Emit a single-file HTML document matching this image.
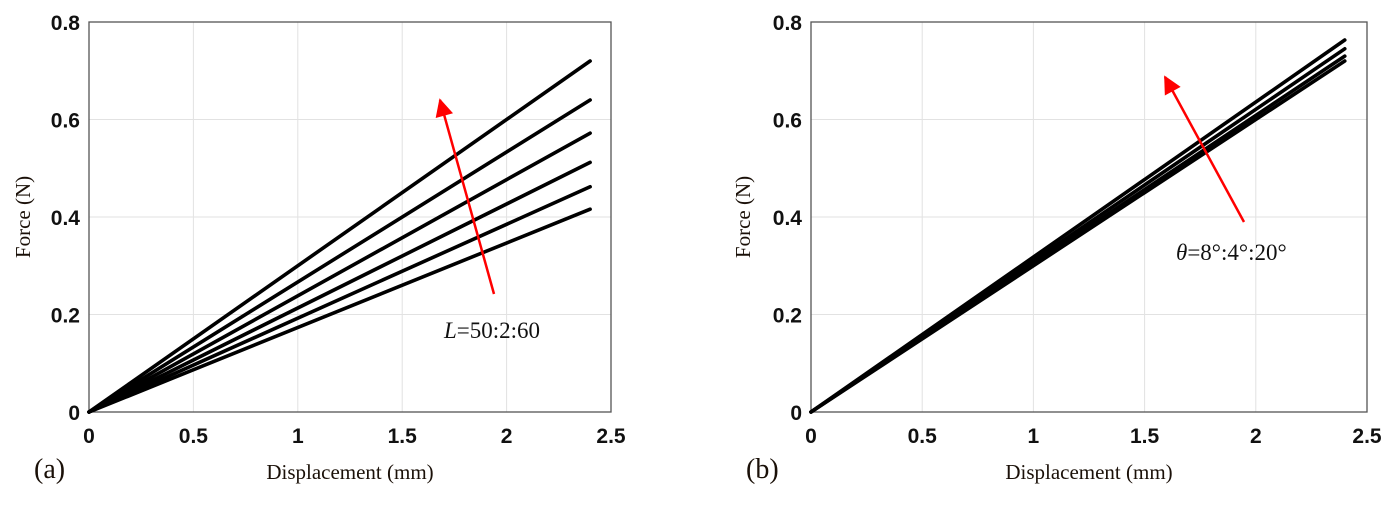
<!DOCTYPE html>
<html><head><meta charset="utf-8">
<style>
html,body{margin:0;padding:0;background:#fff;}
svg{display:block;}
.tick{font-family:"Liberation Sans",sans-serif;font-weight:bold;font-size:21px;fill:#111;}
.title{font-family:"Liberation Serif",serif;font-size:21px;fill:#1a1008;}
.ann{font-family:"Liberation Serif",serif;font-size:23px;fill:#111;}
</style></head>
<body>
<svg id="fig" width="1395" height="505" viewBox="0 0 1395 505" xmlns="http://www.w3.org/2000/svg">
<defs>
<marker id="ah2" viewBox="0 0 10 10" markerWidth="22" markerHeight="18" refX="9" refY="5" orient="auto" markerUnits="userSpaceOnUse"><path d="M0,0 L10,5 L0,10 z" fill="#f00"/></marker></defs>
</svg>
<script>
const xTicks=[0,0.5,1,1.5,2,2.5];
const yTicks=[0,0.2,0.4,0.6,0.8];
const xTickLabels=["0","0.5","1","1.5","2","2.5"];
const yTickLabels=["0","0.2","0.4","0.6","0.8"];
const xEnd=2.4;
const seriesA=[0.72,0.64,0.572,0.512,0.462,0.416];
const seriesB=[0.763,0.745,0.73,0.72];
const NS="http://www.w3.org/2000/svg";
const svg=document.getElementById('fig');
function mk(tag,attrs,parent){const e=document.createElementNS(NS,tag);for(const k in attrs)e.setAttribute(k,attrs[k]);(parent||svg).appendChild(e);return e;}
function panel(cfg){
  const g=mk('g',{});
  
  
  const sx=v=>cfg.x0+(v/2.5)*(cfg.x1-cfg.x0);
  const sy=v=>cfg.y0-(v/0.8)*(cfg.y0-cfg.y1);
  xTicks.forEach((t,i)=>{
    if(i>0&&i<xTicks.length-1){const l=mk('line',{x1:sx(t),x2:sx(t),y1:cfg.y1,y2:cfg.y0,stroke:'#e2e2e2','stroke-width':1},g);
    
    }
    const tx=mk('text',{x:sx(t),y:cfg.y0+31,'text-anchor':'middle',class:'tick'},g);tx.textContent=xTickLabels[i];
    
    
  });
  yTicks.forEach((t,i)=>{
    if(i>0&&i<yTicks.length-1){const l=mk('line',{x1:cfg.x0,x2:cfg.x1,y1:sy(t),y2:sy(t),stroke:'#e2e2e2','stroke-width':1},g);
    
    }
    const tx=mk('text',{x:cfg.x0-9,y:sy(t)+8,'text-anchor':'end',class:'tick'},g);tx.textContent=yTickLabels[i];
    
    
  });
  const box=mk('rect',{x:cfg.x0,y:cfg.y1,width:cfg.x1-cfg.x0,height:cfg.y0-cfg.y1,fill:'none',stroke:'#555','stroke-width':1.3},g);
  
  
  cfg.series.forEach((v,i)=>{
    const l=mk('line',{x1:sx(0),y1:sy(0),x2:sx(xEnd),y2:sy(v),stroke:'#000','stroke-width':3.6,'stroke-linecap':'round'},g);
    
    
  });
  const ar=mk('line',{x1:cfg.arrow[0],y1:cfg.arrow[1],x2:cfg.arrow[2],y2:cfg.arrow[3],stroke:'#f00','stroke-width':2.5,'marker-end':'url(#ah2)'},g);
  
  
  const yt=mk('text',{x:0,y:0,'text-anchor':'middle',class:'title',transform:`translate(${cfg.ytx},${(cfg.y0+cfg.y1)/2}) rotate(-90)`},g);
  yt.textContent='Force (N)';
  
  
  const xt=mk('text',{x:(cfg.x0+cfg.x1)/2,y:cfg.y0+67,'text-anchor':'middle',class:'title'},g);
  xt.textContent='Displacement (mm)';
  
  
  const pl=mk('text',{x:cfg.lx,y:cfg.y0+66,class:'title'},g);
  pl.setAttribute('style','font-size:28px');
  pl.textContent=cfg.label;
  
  
  const an=mk('text',{x:cfg.ann[0],y:cfg.ann[1],class:'ann'},g);
  an.innerHTML=cfg.annHtml;
  
  
}
panel({name:'panel-a',x0:89,x1:611,y0:412,y1:22,series:seriesA,arrow:[494,294,440,100],ytx:30,lx:34,label:'(a)',ann:[444,338],annHtml:'<tspan font-style="italic">L</tspan>=50:2:60'});
panel({name:'panel-b',x0:811,x1:1367,y0:412,y1:22,series:seriesB,arrow:[1244,222,1165,77],ytx:750,lx:746,label:'(b)',ann:[1176,260],annHtml:'<tspan font-style="italic">θ</tspan>=8°:4°:20°'});
</script>
</body></html>
